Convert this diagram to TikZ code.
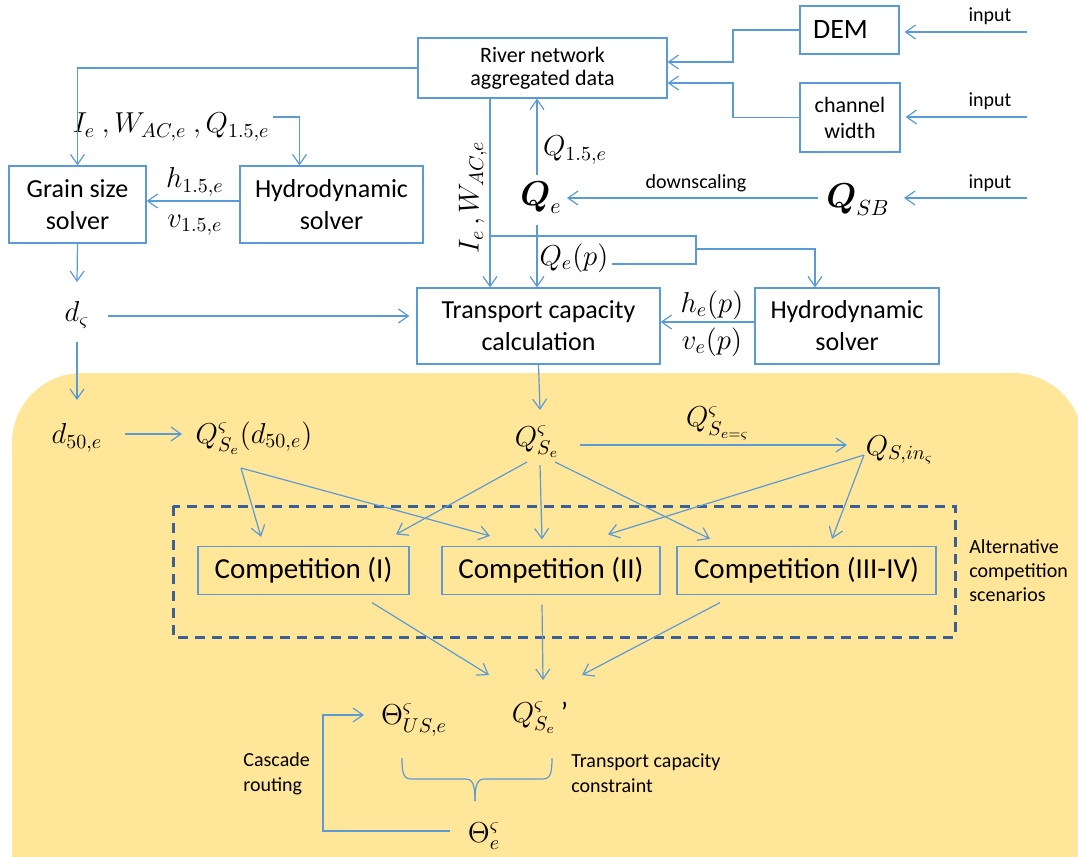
\documentclass[tikz,border=0pt]{standalone}
\usepackage{fontspec}
\setmainfont{Carlito}
\usepackage{amsmath,amssymb}
\usetikzlibrary{arrows.meta,positioning}
\definecolor{lineblue}{RGB}{91,155,213}
\definecolor{sandy}{RGB}{255,230,153}
\definecolor{dashblue}{RGB}{59,96,150}

\begin{document}
\begin{tikzpicture}[x=0.5pt,y=-0.5pt,
  box/.style={draw=lineblue,line width=0.6pt,align=center,inner sep=0pt,font=\fontsize{13}{16}\selectfont},
  conn/.style={draw=lineblue,line width=0.6pt},
  flow/.style={conn,-{Straight Barb[length=5pt,width=7pt]}},
  mth/.style={inner sep=1.5pt,font=\fontsize{14.5}{16}\selectfont},
  note/.style={align=left,inner sep=0pt,font=\fontsize{10}{12.5}\selectfont}]
\useasboundingbox (0,0) rectangle (1078,857);
\fill[sandy,rounded corners=35pt] (12,373) rectangle (1083,940);
\draw[dashblue,line width=1.5pt,dash pattern=on 5pt off 3.5pt] (173,506) rectangle (955,637);

\node[box,minimum width=124.5pt,minimum height=30pt,font=\fontsize{11}{11.5}\selectfont] (river) at (542.5,68) {River network\\aggregated data};
\node[box,minimum width=49.5pt,minimum height=24pt,font=\fontsize{14}{16}\selectfont] (dem) at (849.5,30) {DEM\hspace*{9pt}};
\node[box,minimum width=50pt,minimum height=34.5pt,font=\fontsize{11}{13}\selectfont] (chw) at (850,117.5) {channel\\width};
\node[box,minimum width=68.5pt,minimum height=38.5pt] (grain) at (77.5,204.5) {Grain size\\solver};
\node[box,minimum width=91.5pt,minimum height=38.5pt] (hydroA) at (331.5,204.5) {Hydrodynamic\\solver};
\node[box,minimum width=121.5pt,minimum height=38pt] (transport) at (538.5,326) {Transport capacity\\calculation};
\node[box,minimum width=92pt,minimum height=38pt] (hydroB) at (847,326) {Hydrodynamic\\solver};
\node[box,minimum width=105.5pt,minimum height=24pt,font=\fontsize{14.5}{16}\selectfont] (compI) at (303.5,570.5) {Competition (I)};
\node[box,minimum width=109pt,minimum height=24pt,font=\fontsize{14.5}{16}\selectfont] (compII) at (551,570.5) {Competition (II)};
\node[box,minimum width=129.5pt,minimum height=24pt,font=\fontsize{14.5}{16}\selectfont] (compIII) at (806.5,570.5) {Competition (III-IV)};

\node[mth,font=\fontsize{16}{18}\selectfont] (qe) at (541,198) {$\boldsymbol{Q}_e$};
\node[mth,font=\fontsize{16}{18}\selectfont] (qsb) at (858,200) {$\boldsymbol{Q}_{SB}$};
\node[mth] (q15) at (575,150) {$Q_{1.5,e}$};
\node[mth] (qep) at (574,258) {$Q_e(p)$};
\node[mth,rotate=90] (iew) at (473,197) {$I_e\,,W_{AC,e}$};
\node[mth] (lblA) at (171,127) {$I_e\ ,W_{AC,e}\ ,Q_{1.5,e}$};
\node[mth] (h15) at (195,182) {$h_{1.5,e}$};
\node[mth] (v15) at (195,225) {$v_{1.5,e}$};
\node[mth] (dsig) at (77,315) {$d_{\varsigma}$};
\node[mth] (hep) at (712,305) {$h_e(p)$};
\node[mth] (vep) at (712,342) {$v_e(p)$};
\node[mth] (d50) at (77,438) {$d_{50,e}$};
\node[mth] (qd50) at (254,438) {$Q^{\varsigma}_{S_e}(d_{50,e})$};
\node[mth] (qse) at (537,442) {$Q^{\varsigma}_{S_e}$};
\node[mth] (qeq) at (718,423) {$Q^{\varsigma}_{S_{e=\varsigma}}$};
\node[mth] (qsin) at (900,450) {$Q_{S,in_{\varsigma}}$};
\node[mth] (qsep) at (540,718) {$Q^{\varsigma}_{S_e}$\,’};
\node[mth] (thus) at (414,720) {$\Theta^{\varsigma}_{US,e}$};
\node[mth] (thee) at (484,836) {$\Theta^{\varsigma}_{e}$};

\node[note] (inA) at (990,16) {input};
\node[note] (inB) at (990,101) {input};
\node[note] (inC) at (990,183) {input};
\node[note] (down) at (696,183) {downscaling};
\node[note,anchor=west] (casc) at (243,774) {Cascade\\routing};
\node[note,anchor=west] (tcc) at (571,773) {Transport capacity\\constraint};
\node[note,anchor=west,font=\fontsize{10}{12}\selectfont] (alt) at (969,571) {Alternative\\competition\\scenarios};

\coordinate (srcA) at (1027,32);
\coordinate (srcB) at (1027,117);
\coordinate (srcC) at (1027,198);
\coordinate (jD) at (733,62);
\coordinate (jW) at (733,83);
\coordinate (jA) at (490,236);
\coordinate (jB) at (696,264);
\coordinate (jC) at (696,249);
\coordinate (jR) at (323,715);

\draw[flow,shorten >=2.5pt] (srcA) -- (srcA -| dem.east);
\draw[flow,shorten >=2.5pt] (srcB) -- (srcB -| chw.east);
\draw[flow] (srcC) -- ([shift={(46,-2)}]qsb.center);
\draw[flow] (dem.west) -| (jD) -- (jD -| river.east);
\draw[flow] (chw.west) -| (jW) -- (jW -| river.east);
\draw[flow] ([shift={(-40,-2)}]qsb.center) -- ([shift={(26,0)}]qe.center);
\draw[flow] ([shift={(-4,-23)}]qe.center) -- ([shift={(-5.5,0)}]river.south);
\draw[flow] ([shift={(-4,27)}]qe.center) -- ([shift={(-1.5,0)}]transport.north);
\draw[flow] ([shift={(-52.5,0)}]river.south) -- ([shift={(-48.5,0)}]transport.north);
\draw[conn] (jA) -| (jB) -- (qep.east |- jB);
\draw[flow] (jC) -| ([xshift=-16pt]hydroB.north);
\draw[flow] (river.west) -| (grain.north);
\draw[flow] ([yshift=5pt]lblA.east) -| ([xshift=-16pt]hydroA.north);
\draw[flow] ([yshift=1.75pt]hydroA.west) -- ([yshift=1.75pt]grain.east);
\draw[flow] (grain.south) -- ([shift={(0,-33)}]dsig.center);
\draw[flow] ([shift={(31,1)}]dsig.center) -- ([shift={(-7,-10)}]transport.west);
\draw[flow] ([shift={(0,27)}]dsig.center) -- ([shift={(0,-38)}]d50.center);
\draw[flow] ([yshift=2pt]hydroB.west) -- ([yshift=2pt]transport.east);
\draw[flow] (transport.south) -- ([shift={(3,-32)}]qse.center);
\draw[flow] ([shift={(48,-4)}]d50.center) -- ([shift={(-72,-4)}]qd50.center);
\draw[flow] ([shift={(43,3)}]qse.center) -- ([shift={(-53,-5)}]qsin.center);

\draw[flow] ([shift={(-13,30)}]qd50.center) -- ([shift={(-42.5,-9)}]compI.north);
\draw[flow] ([shift={(-13,30)}]qd50.center) -- ([shift={(-61,-10)}]compII.north);
\draw[flow] ([shift={(-10,20)}]qse.center) -- ([shift={(92.5,-11.5)}]compI.north);
\draw[flow] ([shift={(3,23)}]qse.center) -- ([shift={(-9,-6.5)}]compII.north);
\draw[flow] ([shift={(18,20)}]qse.center) -- ([shift={(-96.5,-7)}]compIII.north);
\draw[flow] ([shift={(-36,5)}]qsin.center) -- ([shift={(57,-11.5)}]compII.north);
\draw[flow] ([shift={(-36,5)}]qsin.center) -- ([shift={(25.5,-7)}]compIII.north);
\draw[flow] ([shift={(68.5,7.5)}]compI.south) -- ([shift={(-51,-43)}]qsep.center);
\draw[flow] ([shift={(-9,9.5)}]compII.south) -- ([shift={(3,-38)}]qsep.center);
\draw[flow] ([shift={(-86.5,7.5)}]compIII.south) -- ([shift={(42,-43)}]qsep.center);

\draw[flow] ([shift={(-34,-5)}]thee.center) -| (jR) -- ([shift={(-50,-5)}]thus.center);
\draw[conn] (402,758) .. controls (402,775) and (404,779) .. (412,779) -- (465,779) .. controls (472,779) and (475,783) .. (475,801);
\draw[conn] (552,758) .. controls (552,775) and (550,779) .. (542,779) -- (485,779) .. controls (478,779) and (475,783) .. (475,801);
\end{tikzpicture}
\end{document}
